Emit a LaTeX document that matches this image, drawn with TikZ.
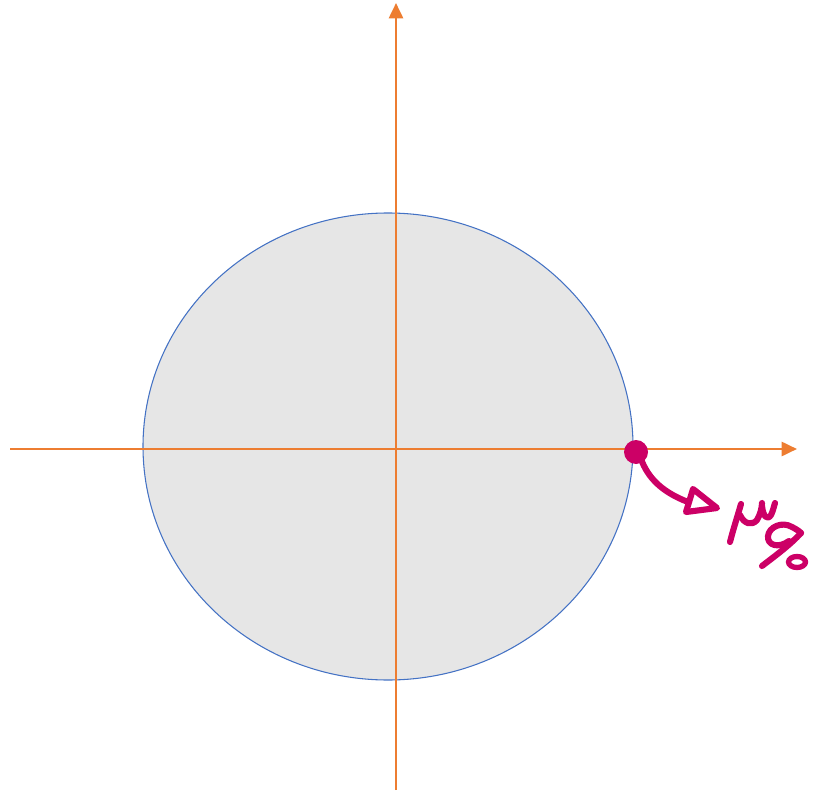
\documentclass[tikz,border=0pt]{standalone}
\usetikzlibrary{arrows.meta}
\definecolor{axisorange}{HTML}{ED7D31}
\definecolor{rimblue}{HTML}{4472C4}
\definecolor{discgray}{HTML}{E6E6E6}
\definecolor{inkmag}{HTML}{CC0066}
\tikzset{
  axisline/.style={draw=axisorange, line width=2pt, -{Triangle[length=11.5pt,width=10.5pt]}},
  ink/.style={draw=inkmag, line width=4.6pt, line cap=round, line join=round},
}
\begin{document}
\begin{tikzpicture}[x=0.75pt,y=-0.75pt]
\useasboundingbox (0,0) rectangle (813,791);
% disc
\draw[fill=discgray, draw=rimblue, line width=0.8pt] (388,446.5) ellipse [x radius=245, y radius=233.5];
% axes
\coordinate (xs) at (10,449);
\coordinate (xe) at (797,449);
\coordinate (ys) at (396,790);
\coordinate (ye) at (396,3);
\draw[axisline] (xs) -- (xe);
\draw[axisline] (ys) -- (ye);
% point on rim
\coordinate (p) at (636,452);
\fill[inkmag] (p) circle [radius=12];
% curved ink arrow
\draw[ink] (641,459) .. controls (648,478) and (662,492) .. (688,502);
\draw[ink] (693,489) -- (686,512) -- (717,508) -- cycle;
% handwritten mu
\draw[ink] (741,504) .. controls (737,518) and (733,530) .. (730,542);
\draw[ink] (740,515) .. controls (744,524) and (752,526) .. (757,520)
  .. controls (760,515) and (762,508) .. (762,503);
\draw[ink] (762,506) .. controls (763,516) and (767,521) .. (771,515)
  .. controls (773,511) and (774,506) .. (775,503);
% handwritten nine
\draw[ink] (789,541) .. controls (778,549) and (767,545) .. (768,536)
  .. controls (769,527) and (782,521) .. (792,527)
  .. controls (796,529) and (799,531) .. (801,533);
\draw[ink] (801,533) .. controls (790,545) and (775,556) .. (762,566);
% handwritten zero
\draw[ink, line width=4pt] (797,562) ellipse [x radius=8.5, y radius=5.5];
\end{tikzpicture}
\end{document}
